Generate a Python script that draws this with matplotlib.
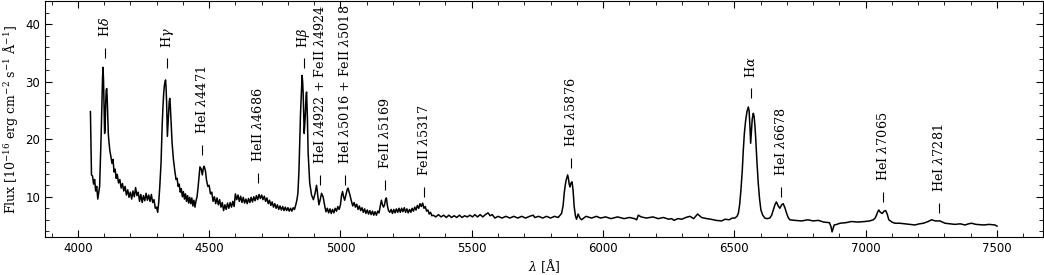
import numpy as np
import matplotlib
matplotlib.use('Agg')
import matplotlib.pyplot as plt
from matplotlib.ticker import MultipleLocator

plt.rcParams['mathtext.fontset'] = 'dejavuserif'

# spectrum (wavelength in A, flux in 1e-16 erg/cm2/s/A)
wave = [4048, 4052, 4056, 4060, 4064, 4068, 4072, 4076, 4080, 4083, 4086, 4089, 4092, 4094, 4096,
        4098, 4100, 4102, 4104, 4106, 4108, 4110, 4112, 4114, 4116, 4118, 4122, 4126,
        4130, 4134, 4138, 4142, 4146, 4150, 4155, 4160, 4165, 4170,
        4175, 4180, 4185, 4190, 4195, 4200, 4205, 4210, 4215, 4220, 4225, 4230, 4235, 4240, 4245,
        4250, 4255, 4260, 4265, 4270, 4275, 4280, 4285, 4290, 4295, 4300, 4304, 4308, 4312, 4317,
        4321, 4324, 4327, 4330, 4334, 4336, 4338, 4341, 4345, 4348, 4350, 4352, 4354, 4359, 4364,
        4369, 4374, 4378, 4382, 4386, 4390, 4394, 4398, 4402, 4406, 4410, 4414, 4418, 4422, 4426,
        4430, 4434, 4438, 4442, 4446, 4450, 4454, 4458, 4462, 4465, 4470, 4474, 4478, 4481, 4486,
        4490, 4495, 4500, 4505, 4510, 4515, 4520, 4525, 4530, 4535, 4540, 4545, 4550, 4555, 4560,
        4565, 4570, 4575, 4580, 4585, 4590, 4595, 4600, 4605, 4610, 4615, 4620, 4625, 4630, 4635,
        4640, 4645, 4650, 4655, 4660, 4665, 4670, 4675, 4680, 4685, 4690, 4695, 4700, 4705, 4710,
        4715, 4720, 4725, 4730, 4735, 4740, 4745, 4750, 4755, 4760, 4765, 4770, 4775, 4780, 4785,
        4790, 4795, 4800, 4805, 4810, 4815, 4820, 4825, 4830, 4834,
        4838, 4842, 4845, 4848, 4851, 4854, 4856, 4858, 4862, 4866, 4869, 4871, 4874, 4877, 4883,
        4890, 4897, 4903, 4909, 4913, 4918, 4923, 4928, 4934, 4941, 4945, 4950, 4955, 4960, 4965,
        4970, 4975, 4980, 4985, 4990, 4995, 5000, 5004, 5008, 5012, 5016, 5022, 5026, 5029, 5035,
        5042, 5047, 5052, 5057, 5062, 5067, 5072, 5077, 5082, 5087, 5092, 5097, 5102, 5107, 5112,
        5117, 5122, 5127, 5132, 5137, 5142, 5147, 5152, 5156, 5160, 5164, 5168, 5172, 5175, 5179,
        5183, 5188, 5193, 5198, 5203, 5208, 5213, 5218, 5223, 5228, 5233, 5238, 5243, 5248, 5253,
        5258, 5263, 5268, 5273, 5278, 5283, 5288, 5293, 5298, 5303, 5308, 5313, 5318, 5323, 5328,
        5333, 5338, 5343, 5348, 5353, 5363, 5373, 5383, 5393, 5403, 5413, 5423, 5433, 5443, 5453,
        5463, 5473, 5483, 5493, 5503, 5512, 5522, 5532, 5542, 5552, 5562, 5570, 5578, 5588, 5600,
        5615, 5630, 5645, 5660, 5675, 5690, 5705, 5720, 5734, 5740, 5755, 5770, 5785, 5800, 5815,
        5829, 5842, 5848, 5852, 5856, 5859, 5865, 5868, 5871, 5874, 5878, 5882, 5886, 5890, 5895,
        5899, 5905, 5912, 5918, 5935, 5956, 5975, 5990, 6010, 6030, 6055, 6080, 6100, 6120, 6128,
        6134, 6145, 6165, 6190, 6210, 6230, 6250, 6261, 6270, 6285, 6300, 6315, 6331, 6345, 6360,
        6375, 6395, 6410, 6430, 6451, 6465, 6480, 6492, 6502, 6510, 6515, 6520, 6525, 6530, 6534,
        6538, 6543, 6548, 6553, 6556, 6559, 6562, 6565, 6568, 6572, 6575, 6578, 6581, 6586, 6591,
        6596, 6601, 6608, 6616, 6625, 6635, 6642, 6648, 6655, 6660, 6667, 6673, 6680, 6686, 6693,
        6699, 6705, 6711, 6730, 6756, 6780, 6800, 6820, 6840, 6862, 6868, 6872, 6876, 6880, 6890,
        6902, 6925, 6946, 6970, 6997, 7015, 7029, 7036, 7041, 7046, 7050, 7056, 7063, 7070, 7076,
        7082, 7088, 7100, 7111, 7130, 7150, 7170, 7187, 7205, 7220, 7238, 7251, 7265, 7283, 7302,
        7320, 7340, 7360, 7378, 7392, 7403, 7420, 7450, 7470, 7492, 7500]
flux = [24.8, 13.8, 13.6, 12.2, 13.0, 11.0, 11.8, 9.6, 10.8, 11.8, 16.4, 21.0, 27.0, 30.5, 32.5,
        30.0, 25.0, 21.0, 22.0, 26.0, 28.5, 28.8, 27.0, 24.0, 21.0, 19.8, 18.0, 17.0,
        15.8, 16.5, 14.3, 14.8, 13.2, 13.9, 12.4, 13.0, 11.5, 12.3,
        11.0, 11.8, 10.3, 11.2, 9.9, 10.8, 9.6, 11.0, 10.0, 11.6, 10.2, 10.8, 9.2, 10.4, 9.0,
        10.2, 9.3, 10.6, 9.4, 10.3, 9.2, 10.4, 9.0, 9.5, 8.0, 8.2, 7.3, 9.0, 11.7, 16.0,
        22.2, 25.5, 28.0, 29.5, 30.3, 29.0, 26.5, 20.5, 24.0, 26.5, 27.1, 26.0, 24.0, 19.3, 16.5,
        14.6, 13.0, 13.2, 11.8, 12.2, 10.8, 11.4, 10.0, 10.9, 9.6, 10.5, 9.2, 10.2, 8.9, 9.9,
        8.8, 9.8, 8.4, 9.4, 8.2, 9.3, 10.0, 11.7, 13.8, 15.2, 14.8, 13.8, 15.0, 15.3, 14.5,
        12.9, 11.8, 12.0, 10.5, 10.8, 9.2, 10.0, 8.8, 9.8, 8.6, 9.5, 8.2, 9.0, 7.6, 8.6,
        7.8, 8.9, 8.0, 9.0, 8.2, 9.2, 8.3, 10.5, 9.5, 10.3, 9.2, 10.1, 9.0, 9.9, 8.9,
        9.6, 8.8, 9.7, 9.0, 9.9, 9.1, 10.0, 9.3, 10.2, 9.5, 10.4, 9.7, 10.3, 9.5, 10.1,
        9.2, 9.8, 8.8, 9.4, 8.5, 9.1, 8.2, 8.8, 8.0, 8.6, 7.8, 8.4, 7.7, 8.3, 7.6,
        8.2, 7.6, 8.1, 7.5, 8.0, 7.5, 8.1, 7.8, 8.6, 9.4,
        10.6, 14.5, 19.3, 24.5, 28.0, 31.1, 30.0, 28.0, 21.0, 24.0, 27.5, 28.2, 24.0, 17.6, 12.4,
        10.3, 9.5, 10.5, 12.0, 10.5, 8.6, 9.5, 10.6, 10.0, 8.2, 7.4, 8.0, 7.2, 7.9, 7.1,
        7.8, 7.2, 8.0, 7.5, 8.3, 7.8, 8.6, 10.2, 10.9, 10.0, 9.4, 10.5, 11.3, 11.5, 10.5,
        9.2, 8.4, 9.0, 8.2, 8.7, 7.8, 8.4, 7.6, 8.1, 7.3, 7.9, 7.1, 7.7, 7.0, 7.6,
        6.9, 7.5, 6.8, 7.4, 6.8, 7.5, 7.2, 8.5, 9.4, 8.6, 8.2, 8.6, 9.6, 9.8, 8.4,
        7.6, 7.3, 7.8, 7.1, 7.8, 7.2, 7.9, 7.3, 8.0, 7.3, 8.0, 7.4, 8.1, 7.3, 7.9,
        7.2, 7.8, 7.3, 8.0, 7.5, 8.2, 7.7, 8.5, 8.0, 8.8, 8.3, 8.9, 8.0, 8.3, 7.5,
        7.7, 7.0, 7.3, 6.7, 6.8, 6.5, 6.9, 6.5, 6.8, 6.4, 6.8, 6.4, 6.7, 6.4, 6.8,
        6.4, 6.7, 6.5, 6.8, 6.5, 6.9, 6.5, 6.9, 6.5, 6.9, 7.2, 6.7, 6.9, 6.3, 6.6,
        6.3, 6.6, 6.3, 6.6, 6.3, 6.6, 6.3, 6.6, 6.8, 6.4, 6.6, 6.3, 6.6, 6.3, 6.6,
        6.4, 7.1, 8.5, 10.6, 12.0, 12.8, 13.8, 13.2, 12.2, 11.7, 12.4, 12.6, 11.0, 8.3, 6.6,
        6.1, 7.0, 6.3, 6.0, 6.6, 6.3, 6.6, 6.3, 6.5, 6.2, 6.5, 6.2, 6.4, 6.2, 6.0,
        6.8, 6.5, 6.3, 6.5, 6.2, 6.4, 6.1, 6.2, 5.9, 6.2, 6.1, 6.4, 6.6, 6.2, 7.0,
        6.4, 6.2, 6.1, 5.9, 5.8, 6.1, 6.0, 6.3, 6.3, 6.6, 7.1, 8.6, 11.2, 14.5, 18.1,
        21.0, 23.3, 24.8, 25.6, 25.0, 22.5, 19.3, 21.5, 23.5, 24.5, 24.0, 22.5, 20.4, 16.0, 12.3,
        9.6, 7.7, 6.8, 6.3, 6.2, 6.3, 6.8, 7.7, 8.7, 9.1, 8.4, 8.0, 8.6, 8.8, 8.0,
        7.1, 6.4, 6.0, 5.9, 5.8, 6.0, 5.8, 5.9, 5.6, 5.5, 4.8, 3.9, 4.5, 5.1, 5.2,
        5.4, 5.5, 5.7, 5.6, 5.7, 5.8, 6.0, 6.3, 6.8, 7.4, 7.7, 7.3, 7.1, 7.5, 7.6,
        7.0, 6.0, 5.6, 5.4, 5.4, 5.3, 5.2, 5.1, 5.3, 5.4, 5.7, 6.0, 5.8, 5.8, 5.4,
        5.3, 5.2, 5.3, 5.1, 5.3, 5.4, 5.2, 5.1, 5.2, 5.1, 4.9]

# line identifications: label, wavelength, flux level of the bottom of the marker
line_labels = [r'H$\delta$', r'H$\gamma$', r'HeI $\lambda$4471', r'HeII $\lambda$4686', r'H$\beta$',
               r'HeI $\lambda$4922 + FeII $\lambda$4924', r'HeI $\lambda$5016 + FeII $\lambda$5018',
               r'FeII $\lambda$5169', r'FeII $\lambda$5317', r'HeI $\lambda$5876', r'H$\alpha$',
               r'HeI $\lambda$6678', r'HeI $\lambda$7065', r'HeI $\lambda$7281']
line_wave = [4102, 4340, 4471, 4686, 4861, 4922, 5016, 5169, 5317, 5876, 6563, 6678, 7065, 7281]
line_base = [34.1, 32.3, 17.2, 12.4, 32.3, 12.0, 12.0, 11.2, 10.0, 15.0, 27.1, 10.0, 9.1, 7.2]

fig = plt.figure(figsize=(10.44, 2.75), dpi=100)
ax = fig.add_axes([0.0431, 0.138, 0.9559, 0.858])

ax.plot(wave, flux, color='black', lw=1.1)

ax.vlines(line_wave, line_base, np.array(line_base) + 1.75, color='black', lw=0.8)
for lab, wl, yb in zip(line_labels, line_wave, line_base):
    ax.annotate(lab, xy=(wl, yb), xytext=(0, 15), textcoords='offset points',
                rotation=90, ha='center', va='bottom', fontsize=9.2, family='DejaVu Serif')

ax.set_xlim(3875, 7675)
ax.set_ylim(3, 44)
ax.xaxis.set_major_locator(MultipleLocator(500))
ax.xaxis.set_minor_locator(MultipleLocator(100))
ax.yaxis.set_major_locator(MultipleLocator(10))
ax.yaxis.set_minor_locator(MultipleLocator(2))
ax.tick_params(which='both', direction='in', top=True, right=True, labelsize=8.5)
ax.tick_params(which='major', length=5)
ax.tick_params(which='minor', length=3)
for s in ax.spines.values():
    s.set_linewidth(0.8)

ax.set_xlabel(r'$\lambda$ [Å]', family='DejaVu Serif', fontsize=9, labelpad=2)
ax.set_ylabel(r'Flux [10$^{-16}$ erg cm$^{-2}$ s$^{-1}$ Å$^{-1}$]', family='DejaVu Serif',
              fontsize=9, labelpad=4)

fig.savefig('out.png', dpi=100)
